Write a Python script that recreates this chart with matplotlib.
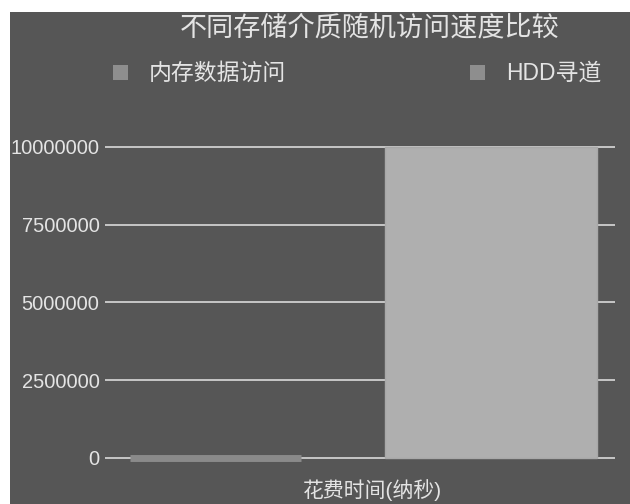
import matplotlib.pyplot as plt
from matplotlib.patches import Rectangle

# datos
series = ["内存数据访问", "HDD寻道"]
valores = [100, 10000000]  # nanosegundos
categoria = "花费时间(纳秒)"
yticks = [0, 2500000, 5000000, 7500000, 10000000]

fondo = "#565656"
texto = "#e4e4e4"
fuente = ["Liberation Sans", "Noto Sans CJK SC", "DejaVu Sans"]
plt.rcParams["font.family"] = fuente

fig = plt.figure(figsize=(6.3, 5.04), dpi=100, facecolor="white")
# fondo oscuro con un borde blanco arriba y a la izquierda
fig.patches.append(Rectangle((10 / 630, 0), 1, 1 - 12 / 504, transform=fig.transFigure,
                             facecolor=fondo, edgecolor="none", zorder=-10))

W, H = 630, 504
left, right, top, bottom = 105, 615, 140, 470
ax = fig.add_axes([left / W, 1 - bottom / H, (right - left) / W, (bottom - top) / H])
ax.set_facecolor(fondo)
ax.patch.set_alpha(0)

pos = [0, 1]
b1 = ax.bar(pos[0], valores[0], width=0.62, color="#8a8a8a", edgecolor="#8a8a8a",
            linewidth=5, joinstyle="round", label=series[0], zorder=3)
b2 = ax.bar(pos[1], valores[1], width=0.77, color="#afafaf", edgecolor="#a8a8a8",
            linewidth=1, label=series[1], zorder=3)

ax.set_xlim(-0.40, 1.45)
ax.set_ylim(-386000, 10225000)
ax.set_yticks(yticks)
ax.set_yticklabels([str(v) for v in yticks], color=texto, fontsize=14.5)
ax.tick_params(axis="y", length=0, pad=4)
ax.set_xticks([])
ax.grid(axis="y", color="#cfcfcf", linewidth=1.3, zorder=1)
for s in ax.spines.values():
    s.set_visible(False)

fig.text(370 / W, 1 - 28 / H, "不同存储介质随机访问速度比较", ha="center", va="center",
         fontsize=19.5, color=texto)
fig.text(372 / W, 1 - 490 / H, categoria, ha="center", va="center", fontsize=15, color=texto)

# leyenda
for x, lab in [(113, series[0]), (470, series[1])]:
    fig.patches.append(Rectangle((x / W, 1 - 80 / H), 15 / W, 15 / H, transform=fig.transFigure,
                                 facecolor="#8e8e8e", edgecolor="none"))
    fig.text((x + 36) / W, 1 - 73 / H, lab, ha="left", va="center", fontsize=16.5, color=texto)

plt.savefig("out.png", dpi=100, facecolor=fig.get_facecolor())
